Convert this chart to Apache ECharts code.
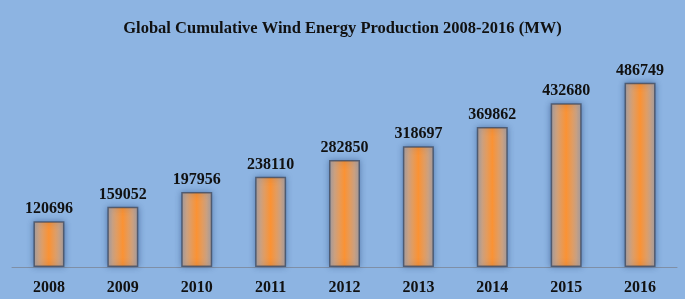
<!DOCTYPE html>
<html>
<head>
<meta charset="utf-8">
<script src="https://cdn.jsdelivr.net/npm/echarts@6/dist/echarts.min.js"></script>
<style>
  html, body { margin: 0; padding: 0; background: #8db4e2; }
  #chart { width: 685px; height: 299px; }
</style>
</head>
<body>
<div id="chart"></div>
<script>
const titleText = 'Global Cumulative Wind Energy Production 2008-2016 (MW)'
const years = ['2008', '2009', '2010', '2011', '2012', '2013', '2014', '2015', '2016']
const production = [120696, 159052, 197956, 238110, 282850, 318697, 369862, 432680, 486749]

const serif = '"Liberation Serif", "Times New Roman", serif'

const chart = echarts.init(document.getElementById('chart'))

// orange glow down the middle of each bar, dull tan towards the edges
const barFill = new echarts.graphic.LinearGradient(0, 0, 1, 0, [
  { offset: 0, color: '#a9a2a4' },
  { offset: 0.18, color: '#cfa381' },
  { offset: 0.5, color: '#fb9233' },
  { offset: 0.82, color: '#cfa381' },
  { offset: 1, color: '#a9a2a4' },
])

chart.setOption({
  backgroundColor: '#8db4e2',
  title: {
    text: titleText,
    left: 'center',
    top: 15,
    textStyle: { fontFamily: serif, fontWeight: 'bold', fontSize: 16.5, color: '#111' },
  },
  grid: { left: 12, right: 8, top: 77.7, bottom: 32 },
  xAxis: {
    type: 'category',
    data: years,
    axisLine: { lineStyle: { color: '#7f8fa6', width: 1 } },
    axisTick: { show: false },
    axisLabel: {
      fontFamily: serif,
      fontWeight: 'bold',
      fontSize: 16,
      color: '#111',
      margin: 13,
    },
  },
  yAxis: {
    type: 'value',
    min: 0,
    max: 500000,
    show: false,
    splitLine: { show: false },
  },
  series: [
    {
      type: 'bar',
      data: production,
      barWidth: 31,
      itemStyle: {
        color: barFill,
        borderColor: 'rgba(55,65,85,0.7)',
        borderWidth: 1.5,
        shadowBlur: 6,
        shadowColor: 'rgba(40,70,120,0.55)',
      },
      label: {
        show: true,
        position: 'top',
        distance: 4,
        fontFamily: serif,
        fontWeight: 'bold',
        fontSize: 16,
        color: '#111',
      },
    },
  ],
})

window.addEventListener('resize', () => chart.resize())
</script>
</body>
</html>
